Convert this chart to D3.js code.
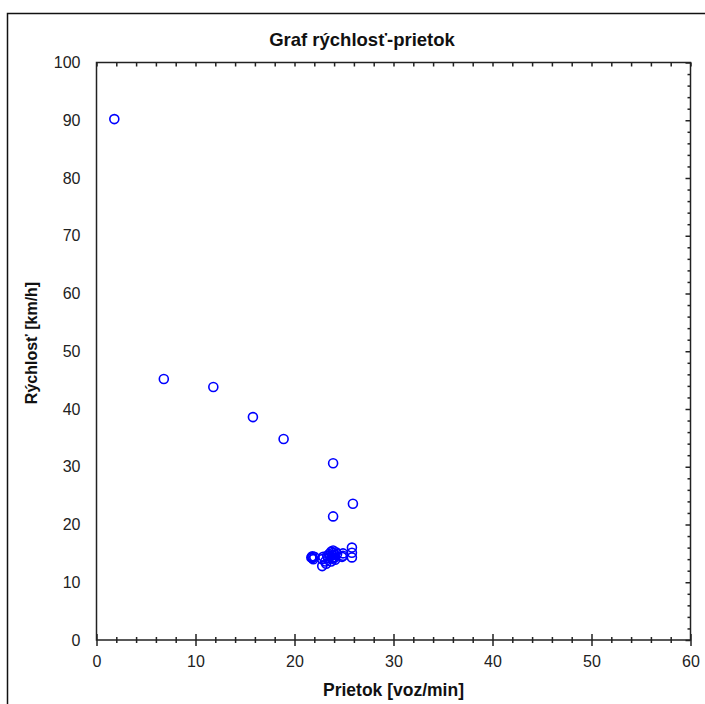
<!DOCTYPE html>
<html>
<head>
<meta charset="utf-8">
<script src="https://cdn.jsdelivr.net/npm/d3@7"></script>
<style>
  body { margin: 0; background: #fff; }
  svg { display: block; }
  .axis path { display: none; }
  .axis line { stroke: #222; stroke-width: 1.5; }
  .axis text { font-family: Arial, "Liberation Sans", sans-serif; font-size: 16px; fill: #222; }
</style>
</head>
<body>
<div id="chartDiv"></div>
<script>
;(function() {

	// prietok [voz/min]
	var flow = [1.8, 6.8, 11.8, 15.8, 18.9, 23.9, 25.9, 23.9,
		21.8, 21.8, 21.9, 21.7, 22.0,
		22.8, 22.8, 22.9, 23.1, 23.3, 23.4, 23.2, 23.5,
		23.6, 23.7, 23.8, 23.8, 23.9, 23.9, 24.0, 23.9, 24.1, 24.2, 24.3, 23.7, 24.0,
		24.8, 24.9, 24.9, 25.8, 25.8, 25.8];
	// rýchlosť [km/h]
	var speed = [90.2, 45.2, 43.8, 38.6, 34.8, 30.6, 23.6, 21.4,
		14.2, 14.5, 14.0, 14.3, 14.4,
		12.8, 14.0, 14.4, 13.6, 14.6, 14.2, 13.2, 14.9,
		14.4, 13.6, 14.1, 14.7, 15.1, 15.5, 14.8, 14.3, 13.9, 15.2, 14.9, 15.3, 14.2,
		14.4, 15.0, 14.6, 14.3, 15.1, 16.0];

	var xMajor = [0, 10, 20, 30, 40, 50, 60];
	var yMajor = [0, 10, 20, 30, 40, 50, 60, 70, 80, 90, 100];

	var title = "Graf rýchlosť-prietok";
	var xAxisLabelHeader = "Prietok [voz/min]";
	var yAxisLabelHeader = "Rýchlosť [km/h]";

	var width = 705;
	var height = 704;
	var plot = { left: 96.5, right: 690.5, top: 62.5, bottom: 640 };
	var circleRadius = 4.5;
	var BLUE = "#0000ff";
	var FONT = "Arial, 'Liberation Sans', sans-serif";

	var chart = d3.select("#chartDiv").append("svg")
		.attr("width", width)
		.attr("height", height);

	// outer frame
	chart.append("rect")
		.attr("x", 7.5).attr("y", 13.5)
		.attr("width", 740).attr("height", 740)
		.attr("fill", "none")
		.attr("stroke", "#111")
		.attr("stroke-width", 1.5);

	var xScale = d3.scaleLinear().domain([0, 60]).range([plot.left, plot.right]);
	var yScale = d3.scaleLinear().domain([0, 100]).range([plot.bottom, plot.top]);

	var xMinor = d3.range(0, 61, 2).filter(v => v % 10 !== 0);
	var yMinor = d3.range(0, 101, 2).filter(v => v % 10 !== 0);

	// frame of the plot area
	chart.append("rect")
		.attr("x", plot.left).attr("y", plot.top)
		.attr("width", plot.right - plot.left)
		.attr("height", plot.bottom - plot.top)
		.attr("fill", "none")
		.attr("stroke", "#222")
		.attr("stroke-width", 1.5);

	// left and bottom axes, ticks crossing the line
	function crossAxis(axis, transform, size, attr) {
		var g = chart.append("g")
			.attr("class", "axis")
			.attr("transform", transform)
			.call(axis);
		g.selectAll(".tick line").attr(attr, -size);
		return g;
	}

	crossAxis(d3.axisBottom(xScale).tickValues(xMajor).tickSize(6).tickPadding(10).tickFormat(d3.format("d")),
		"translate(0," + plot.bottom + ")", 6, "y1");
	crossAxis(d3.axisBottom(xScale).tickValues(xMinor).tickSize(3).tickFormat(""),
		"translate(0," + plot.bottom + ")", 3, "y1");

	crossAxis(d3.axisLeft(yScale).tickValues(yMajor).tickSize(6).tickPadding(10).tickFormat(d3.format("d")),
		"translate(" + plot.left + ",0)", 6, "x1");
	crossAxis(d3.axisLeft(yScale).tickValues(yMinor).tickSize(4).tickFormat(""),
		"translate(" + plot.left + ",0)", 4, "x1");

	// top and right axes, ticks pointing inward
	chart.append("g").attr("class", "axis")
		.attr("transform", "translate(0," + plot.top + ")")
		.call(d3.axisBottom(xScale).tickValues(xMajor.concat(xMinor)).tickSize(4).tickFormat(""));
	chart.append("g").attr("class", "axis")
		.attr("transform", "translate(" + plot.right + ",0)")
		.call(d3.axisLeft(yScale).tickValues(yMajor).tickSize(5).tickFormat(""));
	chart.append("g").attr("class", "axis")
		.attr("transform", "translate(" + plot.right + ",0)")
		.call(d3.axisLeft(yScale).tickValues(yMinor).tickSize(3).tickFormat(""));

	// title and axis headers
	chart.append("text")
		.attr("x", 362).attr("y", 46)
		.attr("text-anchor", "middle")
		.style("font-family", FONT)
		.style("font-size", "18.5px")
		.style("font-weight", "bold")
		.style("fill", "#111")
		.text(title);

	chart.append("text")
		.attr("x", (plot.left + plot.right) / 2).attr("y", 696)
		.attr("text-anchor", "middle")
		.style("font-family", FONT)
		.style("font-size", "17.5px")
		.style("font-weight", "bold")
		.style("fill", "#111")
		.text(xAxisLabelHeader);

	chart.append("text")
		.attr("text-anchor", "middle")
		.attr("transform", "translate(37,343) rotate(-90)")
		.style("font-family", FONT)
		.style("font-size", "16px")
		.style("font-weight", "bold")
		.style("fill", "#111")
		.text(yAxisLabelHeader);

	// data points
	chart.append("g").selectAll(".dot")
		.data(d3.zip(flow, speed))
		.enter().append("circle")
			.attr("class", "dot")
			.attr("cx", d => xScale(d[0]))
			.attr("cy", d => yScale(d[1]))
			.attr("r", circleRadius)
			.attr("fill", "none")
			.attr("stroke", BLUE)
			.attr("stroke-width", 1.6);
})();
</script>
</body>
</html>
